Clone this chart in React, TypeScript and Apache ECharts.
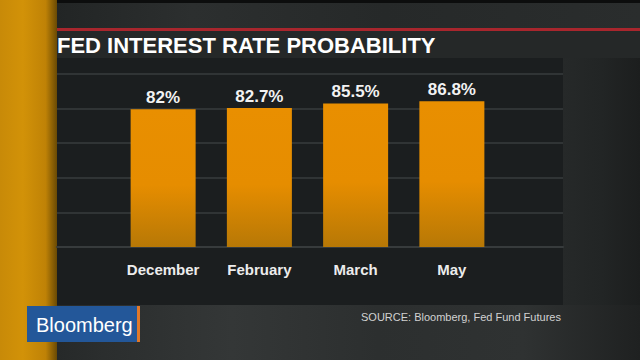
import React, { useEffect, useRef } from "react";
import * as echarts from "echarts";

const categories = ["December", "February", "March", "May"];
const probabilities = [82, 82.7, 85.5, 86.8];
const titleText = "FED INTEREST RATE PROBABILITY";
const sourceText = "SOURCE: Bloomberg, Fed Fund Futures";
const brandText = "Bloomberg";

const FONT = "'Liberation Sans', Arial, Helvetica, sans-serif";

export default function App() {
  const ref = useRef<HTMLDivElement>(null);
  useEffect(() => {
    document.body.style.margin = "0";
    const chart = echarts.init(ref.current!, null, { renderer: "svg" });
    const yMax = 103;
    const yInt = 20.6;
    const option: any = {
      animation: false,
      backgroundColor: "#1d2020",
      textStyle: { fontFamily: FONT },
      graphic: [
        {
          type: "rect", z: -10, shape: { x: 0, y: 0, width: 640, height: 30 },
          style: {
            fill: new echarts.graphic.LinearGradient(0, 0, 1, 0, [
              { offset: 0, color: "#1e2121" },
              { offset: 0.3, color: "#2c2f2f" },
              { offset: 0.6, color: "#262929" },
              { offset: 1, color: "#2a2d2d" },
            ]),
          },
        },
        { type: "rect", z: -9, shape: { x: 0, y: 0, width: 640, height: 3 }, style: { fill: "#0c0d0d" } },
        { type: "rect", z: -9, shape: { x: 52, y: 31, width: 588, height: 27 }, style: { fill: "#252828" } },
        {
          type: "rect", z: -9, shape: { x: 563, y: 58, width: 77, height: 302 },
          style: {
            fill: new echarts.graphic.LinearGradient(0, 0, 1, 0, [
              { offset: 0, color: "#262929" },
              { offset: 0.5, color: "#222525" },
              { offset: 1, color: "#1c1e1e" },
            ]),
          },
        },
        {
          type: "rect", z: -9, shape: { x: 57, y: 305, width: 583, height: 55 },
          style: {
            fill: new echarts.graphic.LinearGradient(0, 0, 1, 0, [
              { offset: 0, color: "#262929" },
              { offset: 0.08, color: "#2b2e2e" },
              { offset: 0.3, color: "#343737" },
              { offset: 0.55, color: "#2c2f2f" },
              { offset: 0.8, color: "#2f3232" },
              { offset: 1, color: "#1f2121" },
            ]),
          },
        },
        { type: "rect", z: -8, shape: { x: 57, y: 58, width: 506, height: 247 }, style: { fill: "#1b1e1f" } },
        { type: "rect", z: -7, shape: { x: 50, y: 28, width: 590, height: 3 }, style: { fill: "#a8262d" } },
        {
          type: "rect", z: -7, shape: { x: 0, y: 0, width: 57, height: 360 },
          style: {
            fill: new echarts.graphic.LinearGradient(0, 0, 1, 0, [
              { offset: 0, color: "#c88a08" },
              { offset: 0.4, color: "#d29208" },
              { offset: 0.8, color: "#bf8206" },
              { offset: 1, color: "#6a4a04" },
            ]),
          },
        },
        {
          type: "text", z: 10, x: 57, y: 45,
          style: {
            text: titleText, fill: "#ffffff", font: `bold 22px ${FONT}`,
            textVerticalAlign: "middle", verticalAlign: "middle",
          },
        },
        { type: "rect", z: 10, shape: { x: 27, y: 306, width: 111, height: 36 }, style: { fill: "#235799" } },
        { type: "rect", z: 10, shape: { x: 137, y: 306, width: 3, height: 36 }, style: { fill: "#e0782a" } },
        {
          type: "text", z: 11, x: 36, y: 325,
          style: {
            text: brandText, fill: "#ffffff", font: `20px ${FONT}`,
            verticalAlign: "middle", textVerticalAlign: "middle",
          },
        },
        {
          type: "text", z: 10, x: 361, y: 317,
          style: {
            text: sourceText, fill: "#d2d2d2", font: `11px ${FONT}`,
            verticalAlign: "middle", textVerticalAlign: "middle",
          },
        },
      ],
      grid: [
        { left: 57, right: 77, top: 74, bottom: 113 },
        { left: 115, right: 140, top: 74, bottom: 113 },
      ],
      xAxis: [
        {
          type: "category", gridIndex: 0, data: categories,
          axisLine: { show: true, lineStyle: { color: "#373b3c", width: 2 } },
          axisTick: { show: false }, axisLabel: { show: false },
        },
        {
          type: "category", gridIndex: 1, data: categories,
          axisLine: { show: false }, axisTick: { show: false },
          axisLabel: {
            color: "#ececec", fontSize: 15, fontWeight: "bold", fontFamily: FONT, margin: 15,
          },
        },
      ],
      yAxis: [
        {
          type: "value", gridIndex: 0, min: 0, max: yMax, interval: yInt,
          axisLine: { show: false }, axisTick: { show: false }, axisLabel: { show: false },
          splitLine: { show: true, lineStyle: { color: "#303435", width: 2 } },
        },
        {
          type: "value", gridIndex: 1, min: 0, max: yMax, interval: yInt,
          axisLine: { show: false }, axisTick: { show: false }, axisLabel: { show: false },
          splitLine: { show: false },
        },
      ],
      series: [
        {
          type: "bar", xAxisIndex: 1, yAxisIndex: 1, data: probabilities, barWidth: 65,
          itemStyle: {
            color: new echarts.graphic.LinearGradient(0, 0, 0, 1, [
              { offset: 0, color: "#e98f00" },
              { offset: 0.55, color: "#e68d00" },
              { offset: 1, color: "#b77806" },
            ]),
          },
          label: {
            show: true, position: "top", distance: 3, formatter: "{c}%",
            color: "#f2f2f2", fontSize: 17, fontWeight: "bold", fontFamily: FONT,
          },
        },
      ],
    };
    chart.setOption(option);
    return () => chart.dispose();
  }, []);
  return (
    <div
      ref={ref}
      style={{ position: "absolute", left: 0, top: 0, width: 640, height: 360 }}
    />
  );
}
